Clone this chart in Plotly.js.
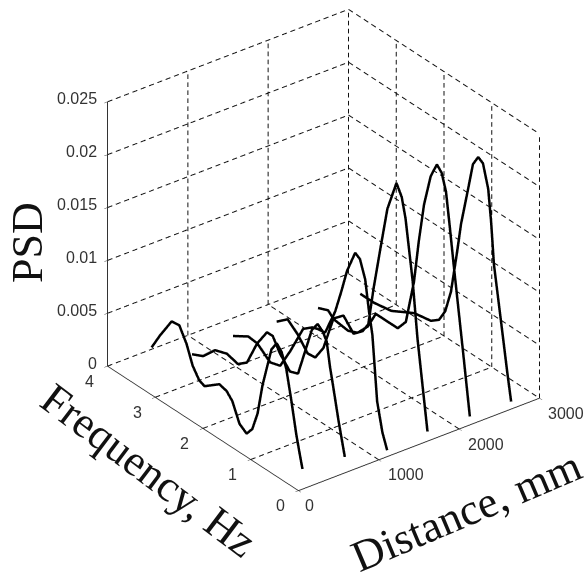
<!DOCTYPE html>
<html><head><meta charset="utf-8">
<script src="https://cdn.plot.ly/plotly-3.0.1.min.js"></script>
<style>html,body{margin:0;padding:0;background:#fff}#c{width:587px;height:573px}</style></head>
<body><div id="c"></div>
<script>
const distance = [50, 577, 1104, 1606, 2133, 2647];
const freq1 = [3.16,2.99,2.74,2.58,2.43,2.30,2.16,2.05,1.74,1.59,1.47,1.32,1.17,1.05,.94,.84,.75,.65,.54,.44,.34,.23,.13,.06,0];
const psd1 = [.0041,.0057,.0078,.0079,.0066,.0049,.0039,.0037,.0048,.0046,.0040,.0023,.0018,.0026,.0044,.0073,.0092,.0113,.0122,.0117,.0104,.0076,.0048,.0032,.0019];
const freq2 = [3.20,2.97,2.72,2.47,2.24,2.05,1.84,1.63,1.51,1.36,1.15,.98,.80,.69,.57,.46,.38,.31,.25,.13,0];
const psd2 = [.0018,.0023,.0036,.0040,.0037,.0044,.0068,.0085,.0085,.0073,.0062,.0065,.0096,.0115,.0124,.0120,.0113,.0091,.0076,.0045,.0015];
const freq3 = [3.23,2.91,2.72,2.45,2.24,2.03,1.76,1.57,1.45,1.30,1.09,.96,.84,.67,.57,.46,.38,.31,.21,.10,0];
const psd3 = [.0019,.0028,.0027,.0017,.0020,.0040,.0069,.0076,.0078,.0079,.0105,.0128,.0151,.0173,.0170,.0154,.0126,.0106,.0046,.0020,.0006];
const freq4 = [3.16,2.93,2.72,2.51,2.35,2.18,1.97,1.76,1.55,1.36,1.24,1.13,.98,.84,.65,.54,.46,.31,.21,.10,0];
const psd4 = [.0020,.0029,.0021,.0009,.0010,.0024,.0058,.0067,.0056,.0064,.0074,.0111,.0155,.0195,.0225,.0215,.0197,.0142,.0091,.0048,.0009];
const freq5 = [3.18,2.97,2.85,2.55,2.35,2.14,1.97,1.80,1.51,1.34,1.17,1.07,.96,.82,.69,.59,.50,.42,.34,.15,0];
const psd5 = [.0017,.0021,.0016,.0014,.0018,.0030,.0047,.0047,.0047,.0058,.0101,.0142,.0180,.0211,.0226,.0221,.0206,.0175,.0142,.0068,.0008];
const freq6 = [3.16,2.87,2.51,2.03,1.68,1.51,1.38,1.26,1.13,1.05,.90,.80,.69,.59,.48,.42,.36,.21,.08,0];
const psd6 = [.0016,.0016,.0019,.0031,.0034,.0040,.0052,.0074,.0116,.0144,.0182,.0208,.0218,.0215,.0194,.0165,.0126,.0076,.0032,.0007];
const freqs = [freq1,freq2,freq3,freq4,freq5,freq6];
const psds = [psd1,psd2,psd3,psd4,psd5,psd6];
const xTicks = [0,1000,2000,3000];
const yTicks = [0,1,2,3,4];
const zTicks = [0,.005,.01,.015,.02,.025];
const zLabels = ['0','0.005','0.01','0.015','0.02','0.025'];

const gx=[],gy=[],gz=[];
// grid lines of the three back walls, broken into dashes (scatter3d dash stretches over a whole trace)
function seg(a,b,n){
  const duty=.58;
  for(let i=0;i<n;i++){
    const t0=i/n,t1=(i+duty)/n;
    const p=t=>[0,1,2].map(k=>a[k]+(b[k]-a[k])*t);
    const s=p(t0),e=p(t1);
    gx.push(s[0],e[0],null);gy.push(s[1],e[1],null);gz.push(s[2],e[2],null);
  }
}
const X=3000,Y=4,Z=.025,NX=29,NY=25,NZ=33;
zTicks.forEach(z=>{ seg([0,Y,z],[X,Y,z],NX); seg([X,Y,z],[X,0,z],NY); });
xTicks.slice(1).forEach(x=>{ seg([x,Y,0],[x,Y,Z],NZ); if(x<X) seg([x,0,0],[x,Y,0],NY); });
yTicks.slice(1).forEach(y=>{ if(y<Y) seg([0,y,0],[X,y,0],NX); seg([X,y,0],[X,y,Z],NZ); });
seg([X,0,0],[X,0,Z],NZ);

const traces=[{type:'scatter3d',mode:'lines',x:gx,y:gy,z:gz,connectgaps:false,
  line:{color:'#111',width:2},hoverinfo:'skip',showlegend:false}];
distance.forEach((d,i)=>traces.push({type:'scatter3d',mode:'lines',
  x:freqs[i].map(()=>d),y:freqs[i],z:psds[i],
  line:{color:'#000',width:5},hoverinfo:'skip',showlegend:false}));

const axisBase={showgrid:false,zeroline:false,showbackground:false,showline:true,linecolor:'#333',linewidth:2,
  ticks:'outside',ticklen:4,tickcolor:'#333',showspikes:false,title:{text:''},showticklabels:false};
const tickFont={family:'Liberation Sans',size:16,color:'#333'};
const tickNotes=[];
xTicks.forEach(v=>tickNotes.push({x:v,y:0,z:0,text:String(v),xshift:v===0?11:27,yshift:-15}));
yTicks.forEach(v=>tickNotes.push({x:0,y:v,z:0,text:String(v),xshift:-18,yshift:-15}));
zTicks.forEach((v,i)=>tickNotes.push({x:0,y:Y,z:v,text:zLabels[i],xanchor:'right',xshift:-9,yshift:3}));

const layout={width:587,height:573,margin:{l:0,r:0,t:0,b:0},paper_bgcolor:'#fff',showlegend:false,
  scene:{domain:{x:[60/587,1],y:[74/573,572/573]},aspectmode:'manual',aspectratio:{x:1.22,y:1.26,z:1.226},
    camera:{eye:{x:-.527*1.64,y:-.687*1.64,z:.5*1.64},center:{x:0,y:0,z:0},up:{x:0,y:0,z:1},projection:{type:'orthographic'}},
    xaxis:Object.assign({},axisBase,{range:[0,3000],tickvals:xTicks}),
    yaxis:Object.assign({},axisBase,{range:[0,4],tickvals:yTicks}),
    zaxis:Object.assign({},axisBase,{range:[0,.025],tickvals:zTicks}),
    annotations:tickNotes.map(n=>Object.assign({showarrow:false,font:tickFont,xanchor:'center',yanchor:'middle'},n))},
  annotations:[
   {text:'PSD',x:28,y:243,textangle:-90},
   {text:'Frequency, Hz',x:149,y:470,textangle:37},
   {text:'Distance, mm',x:466,y:511,textangle:-23}
  ].map(a=>({text:a.text,xref:'paper',yref:'paper',x:a.x/587,y:1-a.y/573,xanchor:'center',yanchor:'middle',
     textangle:a.textangle,showarrow:false,font:{family:'Liberation Serif',size:44,color:'#111'}}))};
Plotly.newPlot('c',traces,layout,{displayModeBar:false});
</script></body></html>
